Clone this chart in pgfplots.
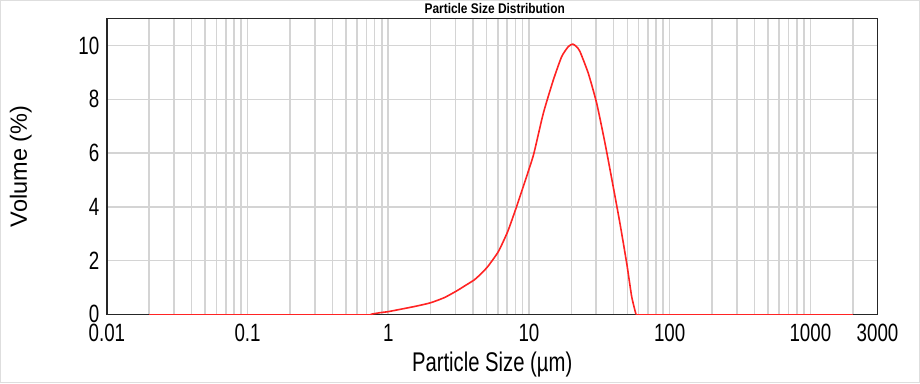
\documentclass[border=0pt]{standalone}
\usepackage{pgfplots}
\pgfplotsset{compat=1.18}
\usepackage{fontspec}
\setmainfont{Liberation Sans}
\newfontfamily\narrowfont{Liberation Sans}[FakeStretch=0.75]
\newfontfamily\titlefont{Liberation Sans}[FakeStretch=0.85]
\definecolor{gridgray}{RGB}{212,212,212}
\definecolor{curvered}{RGB}{255,35,35}
\definecolor{framegray}{RGB}{222,222,222}
\begin{document}
\begin{tikzpicture}[x=1pt,y=1pt]
\useasboundingbox (0,0) rectangle (920,383);
\draw[framegray, line width=1pt] (0.5,0.5) rectangle (919.5,382.5);
\begin{axis}[
  at={(106.9pt,68.7pt)}, anchor=south west,
  scale only axis, width=770.6pt, height=295.5pt,
  xmode=log, xmin=0.01, xmax=3000, ymin=0, ymax=11,
  xtick={0.01,0.1,1,10,100,1000,3000},
  xticklabels={0.01,0.1,1,10,100,1000,3000},
  minor xtick={0.02,0.03,0.04,0.05,0.06,0.07,0.08,0.09,
               0.2,0.3,0.4,0.5,0.6,0.7,0.8,0.9,
               2,3,4,5,6,7,8,9,
               20,30,40,50,60,70,80,90,
               200,300,400,500,600,700,800,900,2000},
  ytick={0,2,4,6,8,10},
  grid=both,
  major grid style={gridgray, line width=1.6pt},
  minor grid style={gridgray, line width=1.6pt},
  major tick length=0pt, minor tick length=0pt,
  axis line style={black!85, line width=1.4pt},
  /pgf/number format/assume math mode=true,
  xticklabel style={font=\narrowfont\fontsize{25}{25}\selectfont, anchor=north, inner sep=0pt, yshift=-9.5pt},
  yticklabel style={font=\narrowfont\fontsize{25}{25}\selectfont, anchor=east, inner sep=0pt, xshift=-7.5pt},
  xlabel={Particle Size (µm)},
  xlabel style={at={([yshift=-57.5pt]axis description cs:0.5,0)}, anchor=base, inner sep=0pt, font=\narrowfont\fontsize{27}{27}\selectfont},
  ylabel={Volume (\%)},
  ylabel style={at={([xshift=-86pt]axis description cs:0,0.5)}, anchor=center, inner sep=0pt, font=\fontsize{23.5}{23.5}\selectfont},
  title={Particle Size Distribution},
  title style={at={([xshift=2.5pt,yshift=-0.5pt]axis description cs:0.5,1)}, anchor=base, inner sep=0pt, font=\titlefont\bfseries\fontsize{14}{14}\selectfont},
  clip=false,
]
\addplot[curvered, line width=1.6pt] coordinates {(0.02,0) (0.75,0)};
\addplot[curvered, line width=1.6pt, line join=round, smooth, tension=0.35] coordinates {
(0.75,0) (0.873,0.06) (1.0,0.10) (1.314,0.22) (1.6,0.31) (2.0,0.43)
(2.5,0.62) (3.06,0.87) (3.5,1.06) (4.08,1.28) (4.5,1.48) (5.08,1.77) (6.05,2.33)
(7.06,3.08) (8.09,3.95) (9.1,4.75) (10.0,5.4) (10.85,6.0) (12.64,7.48) (14.89,8.72)
(17.07,9.59) (19.0,9.96) (20.45,10.06) (21.8,9.96) (23.04,9.78) (26.4,8.97)
(30.3,7.85) (34.7,6.37) (39.7,4.75) (44.3,3.39) (49.5,1.90) (53.7,0.66) (57.6,0)
};
\addplot[curvered, line width=1.6pt] coordinates {(57.6,0) (2000,0)};
\end{axis}
\end{tikzpicture}
\end{document}
